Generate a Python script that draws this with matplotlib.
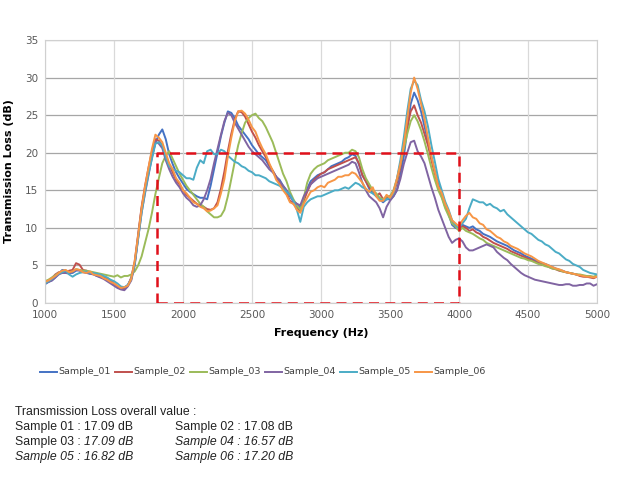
import matplotlib
matplotlib.use("Agg")
import matplotlib.pyplot as plt
from matplotlib.lines import Line2D

freq = list(range(1000, 5001, 25))

s01 = [2.5, 2.8, 3.0, 3.4, 3.9, 4.4, 4.3, 4.0, 4.0, 4.3, 4.4, 4.2, 4.1, 3.9, 3.9, 3.6, 3.5, 3.3, 3.1, 2.8,
       2.5, 2.1, 1.9, 2.0, 2.4, 3.2, 5.2, 8.8, 12.5, 15.2, 17.5, 19.5, 21.3, 22.4, 23.1, 21.8, 19.8, 18.5, 17.4, 16.6,
       15.9, 15.2, 14.8, 14.5, 14.2, 14.0, 14.0, 13.8, 15.6, 17.8, 20.0, 22.2, 24.0, 25.5, 25.3, 24.6, 23.6, 23.0, 22.4, 21.8,
       21.0, 20.4, 19.8, 19.4, 19.0, 18.2, 17.6, 16.8, 16.4, 15.6, 15.0, 14.2, 13.6, 13.2, 12.6, 13.8, 15.2, 16.2, 16.6, 17.0,
       17.2, 17.4, 17.8, 18.2, 18.4, 18.6, 18.8, 19.2, 19.4, 19.8, 19.6, 18.4, 17.0, 16.2, 15.2, 14.6, 14.4, 13.8, 13.4, 13.8,
       13.8, 14.2, 15.0, 17.0, 19.5, 23.0, 26.5, 28.0, 27.0, 25.5, 23.5, 21.5, 19.5, 17.5, 15.8, 14.6, 13.0, 11.8, 10.4, 10.0,
       9.8, 10.4, 10.2, 10.0, 10.2, 9.8, 9.6, 9.2, 9.0, 8.8, 8.5, 8.2, 8.0, 7.8, 7.6, 7.3, 7.0, 6.8, 6.6, 6.3,
       6.1, 5.9, 5.7, 5.5, 5.3, 5.2, 5.0, 4.8, 4.6, 4.4, 4.3, 4.1, 4.0, 3.9, 3.8, 3.7, 3.6, 3.5, 3.5, 3.4,
       3.6]
s02 = [2.7, 3.0, 3.3, 3.8, 4.1, 4.0, 4.0, 4.3, 4.4, 5.3, 5.1, 4.4, 4.3, 4.1, 4.0, 3.8, 3.7, 3.5, 3.3, 3.0,
       2.6, 2.2, 1.9, 1.8, 2.3, 3.4, 5.5, 9.2, 12.8, 15.6, 18.0, 20.2, 21.8, 21.6, 21.0, 19.6, 18.4, 17.4, 16.4, 15.8,
       15.0, 14.4, 14.0, 13.6, 13.2, 13.0, 12.8, 12.5, 12.4, 12.6, 13.4, 15.2, 17.5, 20.2, 22.5, 24.4, 25.5, 25.4, 24.8, 23.8,
       22.8, 22.0, 21.0, 20.2, 19.4, 18.4, 17.6, 16.8, 16.0, 15.2, 14.6, 13.6, 13.2, 12.8, 12.2, 13.6, 14.8, 15.8, 16.4, 16.8,
       17.2, 17.4, 17.8, 18.0, 18.2, 18.4, 18.6, 18.8, 19.0, 19.2, 19.4, 18.6, 17.0, 16.2, 15.4, 15.0, 14.2, 14.6, 13.8, 14.0,
       14.2, 14.6, 16.0, 18.0, 21.0, 23.5, 25.5, 26.3, 25.0, 24.0, 22.5, 21.0, 19.0, 17.2, 15.5, 14.2, 12.8, 12.0, 10.8, 10.4,
       9.8, 10.2, 10.0, 9.6, 9.8, 9.4, 9.2, 8.8, 8.6, 8.3, 8.0, 7.8, 7.6, 7.4, 7.2, 6.9, 6.7, 6.5, 6.3, 6.1,
       5.9, 5.7, 5.5, 5.3, 5.1, 5.0, 4.8, 4.6, 4.5, 4.3, 4.2, 4.1, 4.0, 3.9, 3.8, 3.6, 3.5, 3.5, 3.4, 3.3,
       3.5]
s03 = [2.9, 3.1, 3.4, 3.7, 4.0, 4.2, 4.3, 4.1, 4.2, 4.5, 4.4, 4.3, 4.3, 4.2, 4.1, 4.0, 3.9, 3.8, 3.7, 3.6,
       3.5, 3.7, 3.4, 3.6, 3.6, 3.8, 4.2, 5.0, 6.2, 8.0, 9.8, 12.0, 14.5, 16.6, 18.6, 19.6, 20.2, 19.2, 18.2, 17.2,
       16.4, 15.6, 15.0, 14.4, 13.8, 13.2, 12.8, 12.2, 11.8, 11.4, 11.4, 11.6, 12.4, 14.2, 16.5, 18.8, 21.0, 22.6, 24.0, 24.6,
       25.0, 25.2, 24.6, 24.2, 23.4, 22.4, 21.4, 20.0, 18.6, 17.2, 16.2, 14.8, 13.8, 13.0, 12.4, 14.0, 16.0, 17.2, 17.8, 18.2,
       18.4, 18.6, 19.0, 19.2, 19.4, 19.6, 19.8, 20.0, 20.0, 20.4, 20.2, 19.4, 17.8, 16.6, 15.8, 15.0, 14.6, 14.0, 13.8, 14.2,
       14.2, 15.0, 16.5, 18.5, 20.5, 22.5, 24.2, 25.0, 24.2, 23.0, 21.5, 19.8, 18.0, 16.4, 15.0, 14.0, 12.6, 11.6, 10.6, 10.2,
       9.6, 10.0, 9.6, 9.4, 9.2, 8.9, 8.6, 8.4, 8.0, 7.8, 7.6, 7.4, 7.2, 7.0, 6.8, 6.6, 6.4, 6.2, 6.0, 5.9,
       5.7, 5.6, 5.4, 5.2, 5.1, 4.9, 4.8, 4.6, 4.5, 4.4, 4.2, 4.1, 4.0, 3.9, 3.8, 3.8, 3.7, 3.6, 3.6, 3.5,
       3.7]
s04 = [2.6, 2.8, 3.0, 3.4, 3.8, 4.0, 4.0, 3.9, 4.2, 4.4, 4.3, 4.1, 4.0, 3.9, 3.8, 3.6, 3.4, 3.2, 2.9, 2.6,
       2.3, 2.0, 1.8, 1.7, 2.2, 3.0, 5.0, 8.6, 12.0, 14.6, 17.0, 19.4, 21.5, 21.2, 20.6, 19.0, 17.8, 16.8, 16.0, 15.4,
       14.6, 14.0, 13.6, 13.0, 12.8, 13.0, 13.8, 15.0, 16.5, 18.6, 20.5, 22.4, 24.2, 25.3, 25.0, 24.0, 23.2, 22.4, 21.6, 20.8,
       20.2, 19.8, 19.4, 19.0, 18.4, 17.8, 17.4, 16.8, 16.2, 15.6, 15.0, 14.4, 13.4, 13.2, 13.0, 14.2, 15.0, 15.8, 16.2, 16.6,
       16.8, 17.0, 17.2, 17.4, 17.6, 17.8, 18.0, 18.2, 18.4, 18.8, 18.6, 17.4, 16.0, 15.0, 14.2, 13.8, 13.4, 12.6, 11.4, 12.8,
       13.6, 14.2, 15.0, 16.5, 18.5, 20.0, 21.4, 21.6, 20.2, 19.5, 18.6, 17.0, 15.4, 14.0, 12.4, 11.2, 10.0, 8.8, 8.0, 8.4,
       8.6, 8.2, 7.4, 7.0, 7.0, 7.2, 7.4, 7.6, 7.8, 7.6, 7.4, 6.8, 6.4, 6.0, 5.7, 5.2, 4.8, 4.4, 4.0, 3.7,
       3.5, 3.3, 3.1, 3.0, 2.9, 2.8, 2.7, 2.6, 2.5, 2.4, 2.4, 2.5, 2.5, 2.3, 2.3, 2.4, 2.4, 2.6, 2.6, 2.3,
       2.5]
s05 = [2.6, 2.9, 3.2, 3.6, 3.9, 4.1, 4.3, 3.8, 3.5, 3.8, 4.0, 4.1, 4.2, 4.0, 4.0, 3.9, 3.8, 3.6, 3.4, 3.1,
       2.9, 2.6, 2.2, 2.1, 2.4, 3.2, 5.2, 8.6, 12.0, 14.8, 17.2, 19.2, 21.2, 21.4, 21.0, 19.4, 18.2, 17.8, 17.6, 17.4,
       17.0, 16.6, 16.6, 16.4, 18.0, 19.0, 18.6, 20.2, 20.4, 19.8, 19.8, 20.4, 20.2, 19.6, 19.2, 18.8, 18.6, 18.2, 18.0, 17.6,
       17.4, 17.0, 17.0, 16.8, 16.6, 16.2, 16.0, 15.8, 15.6, 15.2, 14.8, 14.4, 13.6, 12.4, 10.8, 12.8, 13.4, 13.8, 14.0, 14.2,
       14.2, 14.4, 14.6, 14.8, 15.0, 15.0, 15.2, 15.4, 15.2, 15.6, 16.0, 15.8, 15.4, 15.2, 14.8, 14.6, 14.2, 13.8, 13.6, 13.8,
       14.0, 14.6, 16.5, 19.0, 22.0, 25.5, 28.5, 29.6, 29.0, 27.0, 25.5, 23.5, 21.0, 18.8, 16.5, 15.0, 13.5, 12.4, 11.0, 10.4,
       10.0, 10.6, 11.2, 12.6, 13.8, 13.6, 13.4, 13.4, 13.0, 13.2, 12.8, 12.6, 12.2, 12.4, 11.8, 11.4, 11.0, 10.6, 10.2, 9.8,
       9.4, 9.2, 8.8, 8.4, 8.2, 7.8, 7.6, 7.2, 6.8, 6.6, 6.2, 5.8, 5.6, 5.2, 5.0, 4.8, 4.4, 4.2, 4.0, 3.9,
       3.8]
s06 = [2.8, 3.0, 3.3, 3.6, 4.0, 4.3, 4.4, 4.1, 4.2, 4.5, 4.4, 4.1, 4.0, 4.2, 3.8, 3.7, 3.6, 3.3, 3.1, 2.8,
       2.6, 2.3, 2.0, 2.1, 2.3, 3.2, 5.6, 9.0, 12.6, 15.5, 18.0, 20.5, 22.4, 22.0, 21.4, 20.0, 18.6, 17.8, 16.6, 16.0,
       15.0, 14.6, 14.0, 13.4, 13.2, 12.8, 12.6, 12.2, 12.3, 12.6, 13.0, 14.6, 16.5, 19.5, 22.0, 24.2, 25.5, 25.6, 25.2, 24.4,
       23.4, 22.8, 21.6, 20.6, 19.8, 18.6, 17.6, 16.4, 15.8, 15.0, 14.4, 13.4, 13.2, 12.4, 12.0, 13.2, 14.0, 14.8, 15.0, 15.4,
       15.6, 15.4, 16.0, 16.2, 16.4, 16.8, 16.8, 17.0, 17.0, 17.4, 17.2, 16.6, 16.0, 15.2, 14.8, 15.4, 14.2, 13.6, 13.6, 14.4,
       14.0, 14.8, 16.5, 18.5, 21.0, 24.5, 28.0, 30.0, 28.5, 26.5, 24.5, 22.0, 19.5, 17.5, 15.5, 14.6, 13.2, 12.2, 11.0, 10.6,
       10.2, 11.0, 11.6, 12.0, 11.4, 11.2, 10.6, 10.4, 9.8, 9.6, 9.2, 8.8, 8.6, 8.2, 8.0, 7.6, 7.4, 7.2, 6.9, 6.6,
       6.4, 6.2, 5.9, 5.6, 5.4, 5.2, 5.0, 4.8, 4.6, 4.5, 4.3, 4.1, 4.0, 3.9, 3.8, 3.7, 3.6, 3.5, 3.5, 3.4,
       3.5]

series = [s01, s02, s03, s04, s05, s06]
names = ["Sample_01", "Sample_02", "Sample_03", "Sample_04", "Sample_05", "Sample_06"]
colors = ["#4472C4", "#C0504D", "#9BBB59", "#8064A2", "#4BACC6", "#F79646"]

box_x = [1810, 4000]
box_y = [0, 20]

yticks = list(range(0, 36, 5))
xticks = list(range(1000, 5001, 500))

summary_title = "Transmission Loss overall value :"
summary = [
    [("Sample 01 : ", False), ("17.09 dB", False)],
    [("Sample 02 : ", False), ("17.08 dB", False)],
    [("Sample 03 : ", False), ("17.09 dB", True)],
    [("Sample 04 : ", True), ("16.57 dB", True)],
    [("Sample 05 : ", True), ("16.82 dB", True)],
    [("Sample 06 : ", True), ("17.20 dB", True)],
]

fig = plt.figure(figsize=(6.2, 4.78), dpi=100)
ax = fig.add_axes([45/620, 1-303/478, 552/620, 263/478])

for s, c, nm in zip(series, colors, names):
    ax.plot(freq, s, color=c, lw=1.4, label=nm)

ax.plot([box_x[0], box_x[0], box_x[1], box_x[1], box_x[0]],
        [box_y[0], box_y[1], box_y[1], box_y[0], box_y[0]],
        color="#E0101A", lw=1.8, ls=(0, (4, 2.5)), zorder=5)

ax.set_xlim(1000, 5000)
ax.set_ylim(0, 35)
ax.set_xticks(xticks)
ax.set_yticks(yticks)
for yv in yticks:
    ax.axhline(yv, color="#A6A6A6", lw=0.9, zorder=0)
for xv in xticks:
    ax.axvline(xv, color="#D9D9D9", lw=0.9, zorder=0)
for sp in ax.spines.values():
    sp.set_color("#D0D0D0")
    sp.set_linewidth(0.8)
ax.tick_params(length=0, labelsize=7.5, labelcolor="#595959", pad=5)
ax.set_xlabel("Frequency (Hz)", fontsize=8, fontweight="bold", labelpad=6)
ax.set_ylabel("Transmission Loss (dB)", fontsize=8, fontweight="bold", labelpad=8)

# legend
leg_y = 1 - 372/478
for i, (nm, c) in enumerate(zip(names, colors)):
    x0 = (40 + 75*i)/620
    fig.add_artist(Line2D([x0, x0 + 17/620], [leg_y, leg_y], color=c, lw=1.4, transform=fig.transFigure))
    fig.text(x0 + 18/620, leg_y, nm, fontsize=6.8, color="#404040", va="center", ha="left", family="Liberation Sans Narrow")

fs = 8.8
fig.text(15/620, 1-412/478, summary_title, fontsize=fs, va="center", family="Liberation Sans", color="#222222")
rows_y = [427, 442, 457]
renderer = fig.canvas.get_renderer()
for k, parts in enumerate(summary):
    row = k // 2
    col = k % 2
    x = (15 if col == 0 else 175)/620
    y = 1 - rows_y[row]/478
    for txt, it in parts:
        t = fig.text(x, y, txt, fontsize=fs, va="center", family="Liberation Sans",
                     style="italic" if it else "normal", color="#222222")
        bb = t.get_window_extent(renderer=renderer)
        x += bb.width/620

fig.savefig("out.png", dpi=100)
